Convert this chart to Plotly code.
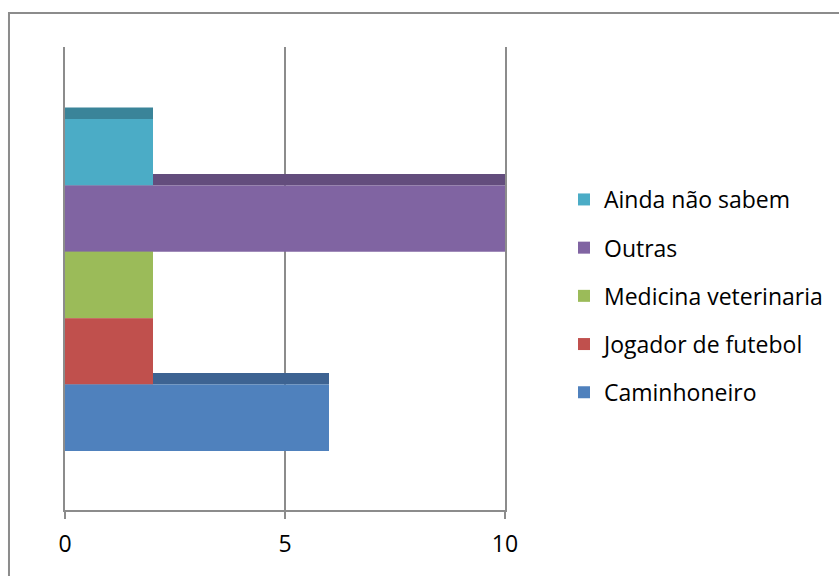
import plotly.graph_objects as go

# Series shown in the chart (bottom to top)
categories = ["Caminhoneiro", "Jogador de futebol", "Medicina veterinaria", "Outras", "Ainda não sabem"]
values = [6, 2, 2, 10, 2]
front_colors = ["#4F81BD", "#C0504D", "#9BBB59", "#8064A2", "#4BACC6"]
top_colors = ["#3D6392", "#943E3B", "#779045", "#634D7D", "#3A8499"]
x_ticks = [0, 5, 10]

FONT = "'Open Sans', 'Noto Sans', sans-serif"
GRID = "#8c8c8c"
DEPTH = 0.173  # thickness of the shaded top face of each bar (in bar units)

fig = go.Figure()

# shaded top faces first, so the next bar's front face sits over them;
# added top series first so the legend groups list from top to bottom
order = list(range(len(categories)))[::-1]
for i in order:
    fig.add_trace(go.Bar(
        x=[values[i]], y=[i + 0.5 + DEPTH / 2], width=DEPTH, orientation="h",
        marker=dict(color=top_colors[i], line=dict(width=0)),
        legendgroup=categories[i], showlegend=False, hoverinfo="skip",
    ))

# front faces
for i in order:
    fig.add_trace(go.Bar(
        x=[values[i]], y=[i], width=1, orientation="h", name=categories[i],
        marker=dict(color=front_colors[i], line=dict(width=0)),
        legendgroup=categories[i],
    ))

fig.update_layout(
    width=839, height=576,
    margin=dict(l=65, r=334, t=47, b=66),
    paper_bgcolor="white", plot_bgcolor="white",
    barmode="overlay",
    font=dict(family=FONT, size=22, color="#000000"),
    showlegend=True,
    legend=dict(
        traceorder="grouped", tracegroupgap=15.3,
        xref="container", yref="container",
        x=564 / 839, y=1 - 178 / 576, xanchor="left", yanchor="top",
        font=dict(family=FONT, size=23, color="#000000"),
        bgcolor="rgba(0,0,0,0)", itemclick=False, itemdoubleclick=False,
    ),
    xaxis=dict(
        range=[0, 10], tickvals=x_ticks, ticktext=[str(t) for t in x_ticks],
        showgrid=True, gridcolor=GRID, gridwidth=2,
        zeroline=False,
        showline=True, linecolor=GRID, linewidth=2,
        ticks="outside", ticklen=7, tickwidth=2, tickcolor=GRID,
        ticklabelstandoff=5,
        tickfont=dict(family=FONT, size=23, color="#000000"),
        fixedrange=True,
    ),
    # value axis edges at 0 and 10 drawn as the side lines of the plot
    yaxis=dict(
        range=[-1.389, 5.584], visible=True, showline=True, mirror=True,
        linecolor=GRID, linewidth=2, showgrid=False, zeroline=False,
        showticklabels=False, ticks="", fixedrange=True,
    ),
    shapes=[dict(
        type="rect", xref="paper", yref="paper",
        x0=-0.1273, x1=2.0, y0=-0.5, y1=1.0734,
        line=dict(color=GRID, width=2), fillcolor="rgba(0,0,0,0)", layer="below",
    )],
)

fig.write_html("out.html")
